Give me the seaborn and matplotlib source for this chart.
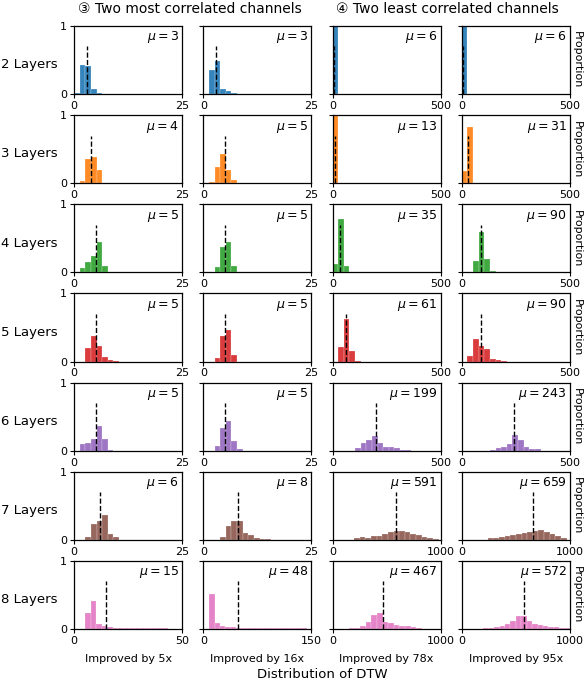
import numpy as np
import pandas as pd
import matplotlib
matplotlib.use("Agg")
import matplotlib.pyplot as plt
import seaborn as sns

# ---------------- data ----------------
row_labels = ["2 Layers", "3 Layers", "4 Layers", "5 Layers", "6 Layers", "7 Layers", "8 Layers"]
col_xlabels = ["Improved by 5x", "Improved by 16x", "Improved by 78x", "Improved by 95x"]
group_titles = ["③ Two most correlated channels", "④ Two least correlated channels"]

means = [[3, 3, 6, 6],
         [4, 5, 13, 31],
         [5, 5, 35, 90],
         [5, 5, 61, 90],
         [5, 5, 199, 243],
         [6, 8, 591, 659],
         [15, 48, 467, 572]]

xmax_col1 = [25, 25, 25, 25, 25, 25, 50]
xmax_col2 = [25, 25, 25, 25, 25, 25, 150]
xmax_col3 = [500, 500, 500, 500, 500, 1000, 1000]
xmax_col4 = [500, 500, 500, 500, 500, 1000, 1000]

start_col1 = [0, 1.3, 1.3, 2.6, 1.3, 2.6, 5.1]
width_col1 = [1.3, 1.3, 1.3, 1.3, 1.3, 1.3, 2.55]
heights_col1 = [
    [0.02, 0.43, 0.41, 0.08, 0.015],
    [0.04, 0.36, 0.38, 0.2],
    [0.06, 0.16, 0.245, 0.44, 0.09],
    [0.2, 0.38, 0.235, 0.06, 0.03, 0.01],
    [0.1, 0.12, 0.17, 0.37, 0.17, 0.015],
    [0.045, 0.235, 0.28, 0.36, 0.08, 0.035],
    [0.235, 0.405, 0.08, 0.04, 0.03, 0.02, 0.02, 0.015, 0.015, 0.012, 0.01, 0.01,
     0.01, 0.008, 0.008, 0.006, 0.005],
]

start_col2 = [1.3, 1.3, 2.6, 2.6, 2.6, 3.9, 8.3]
width_col2 = [1.3, 1.3, 1.3, 1.3, 1.3, 1.3, 7.5]
heights_col2 = [
    [0.35, 0.48, 0.07, 0.04, 0.01],
    [0.015, 0.24, 0.43, 0.2, 0.05, 0.01],
    [0.08, 0.37, 0.45, 0.09],
    [0.05, 0.38, 0.46, 0.09],
    [0.07, 0.33, 0.43, 0.14, 0.02],
    [0.045, 0.2, 0.28, 0.27, 0.1, 0.065, 0.025, 0.01, 0.01],
    [0.51, 0.09, 0.05, 0.035, 0.025, 0.02, 0.02, 0.018, 0.015, 0.015, 0.012, 0.012,
     0.01, 0.01, 0.01, 0.012, 0.01, 0.008],
]

start_col3 = [0, 0, 0, 26, 104, 200, 150]
width_col3 = [26, 26, 26, 26, 26, 52, 52]
heights_col3 = [
    [0.995],
    [0.995],
    [0.12, 0.78, 0.09],
    [0.21, 0.62, 0.15, 0.01],
    [0.035, 0.11, 0.15, 0.21, 0.12, 0.06, 0.05, 0.04, 0.015, 0.015],
    [0.03, 0.04, 0.03, 0.05, 0.06, 0.085, 0.11, 0.125, 0.13, 0.12, 0.09, 0.075,
     0.045, 0.025, 0.01],
    [0.01, 0.02, 0.04, 0.1, 0.2, 0.24, 0.1, 0.085, 0.065, 0.05, 0.05, 0.025, 0.01],
]

start_col4 = [0, 0, 52, 26, 130, 240, 200]
width_col4 = [26, 26, 26, 26, 26, 52, 50]
heights_col4 = [
    [0.995],
    [0.18, 0.82],
    [0.17, 0.6, 0.2, 0.02],
    [0.08, 0.33, 0.225, 0.19, 0.04, 0.03, 0.01],
    [0.015, 0.035, 0.05, 0.1, 0.23, 0.16, 0.06, 0.02, 0.02],
    [0.02, 0.03, 0.04, 0.05, 0.065, 0.085, 0.1, 0.115, 0.135, 0.14, 0.115, 0.085,
     0.05, 0.02],
    [0.01, 0.015, 0.025, 0.05, 0.075, 0.12, 0.185, 0.185, 0.12, 0.08, 0.055, 0.04,
     0.03, 0.025, 0.02, 0.01],
]

# ---------------- plotting ----------------
sns.set_style("ticks")
plt.rcParams["font.family"] = ["DejaVu Sans", "Noto Sans CJK SC"]
plt.rcParams["text.color"] = "black"
plt.rcParams["axes.labelcolor"] = "black"
plt.rcParams["xtick.color"] = "black"
plt.rcParams["ytick.color"] = "black"

starts = [start_col1, start_col2, start_col3, start_col4]
widths = [width_col1, width_col2, width_col3, width_col4]
heights = [heights_col1, heights_col2, heights_col3, heights_col4]
xmaxs = [xmax_col1, xmax_col2, xmax_col3, xmax_col4]
palette = sns.color_palette("tab10", 7)

fig, axes = plt.subplots(7, 4, figsize=(5.84, 6.82), dpi=100)
fig.subplots_adjust(left=74 / 584, right=570 / 584, top=1 - 26 / 682,
                    bottom=1 - 629 / 682, wspace=0.194, hspace=0.309)

for r in range(7):
    for c in range(4):
        ax = axes[r, c]
        h = list(heights[c][r])
        s = starts[c][r]
        w = widths[c][r]
        edges = [s + w * i for i in range(len(h) + 1)]
        centers = [(edges[i] + edges[i + 1]) / 2 for i in range(len(h))]
        df = pd.DataFrame({"value": centers, "weight": h})
        sns.histplot(data=df, x="value", weights="weight", bins=edges, ax=ax,
                     color=palette[r], alpha=0.9, edgecolor=(1, 1, 1, 0.5),
                     linewidth=0.3, stat="count")
        m = means[r][c]
        ax.vlines(m, 0, 0.7, colors="black", linestyles="--", linewidth=1.0, zorder=5)
        ax.text(0.97, 0.95, r"$\mu=%d$" % m, transform=ax.transAxes,
                ha="right", va="top", fontsize=9, color="black")
        ax.set_xlim(0, xmaxs[c][r])
        ax.set_ylim(0, 1)
        ax.set_xticks([0, xmaxs[c][r]])
        ax.set_yticks([0, 1])
        ax.tick_params(labelsize=8, length=3, width=0.8, pad=2, colors="black")
        ax.set_ylabel("")
        ax.set_xlabel("")
        if c != 0:
            ax.set_yticklabels([])
        for sp in ax.spines.values():
            sp.set_linewidth(0.9)
            sp.set_color("black")
        if c == 0:
            ax.text(-0.155, 0.43, row_labels[r], transform=ax.transAxes,
                    ha="right", va="center", fontsize=9.5, color="black")
        if c == 3:
            ax.text(1.02, 0.5, "Proportion", transform=ax.transAxes, rotation=270,
                    ha="left", va="center", fontsize=8, color="black")
        if r == 6:
            ax.set_xlabel(col_xlabels[c], fontsize=8, labelpad=6, color="black")

fig.text(190 / 584, 1 - 9 / 682, group_titles[0], ha="center", va="center",
         fontsize=10, color="black")
fig.text(447 / 584, 1 - 9 / 682, group_titles[1], ha="center", va="center",
         fontsize=10, color="black")
fig.text(322 / 584, 1 - 675 / 682, "Distribution of DTW", ha="center", va="center",
         fontsize=9.5, color="black")

fig.savefig("out.png", dpi=100)
